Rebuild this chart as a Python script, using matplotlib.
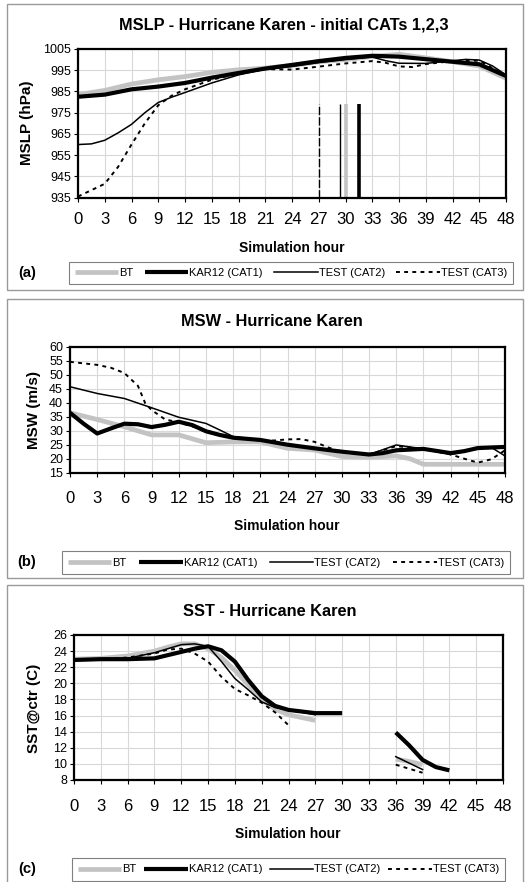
import numpy as np
import matplotlib
matplotlib.use("Agg")
import matplotlib.pyplot as plt
from matplotlib.patches import Rectangle
from matplotlib.lines import Line2D

plt.rcParams['font.family'] = ['Liberation Sans', 'DejaVu Sans']

# ---------------- DATA ----------------
series_names = ["BT", "KAR12 (CAT1)", "TEST (CAT2)", "TEST (CAT3)"]
hour_ticks = list(range(0, 49, 3))

# Panel (a) MSLP (hPa)
mslp_bt_h = [0, 3, 6, 9, 12, 15, 18, 21, 24, 27, 30, 33, 36, 39, 42, 45, 48]
mslp_bt = [983.5, 985.5, 988.5, 990.5, 992, 994, 995.2, 996, 997.2, 999, 1000, 1001.5, 1002.5, 1000.8, 999, 997, 991.2]
mslp_kar_h = [0, 3, 6, 9, 12, 15, 18, 21, 24, 27, 30, 33, 36, 39, 42, 45, 48]
mslp_kar = [982.5, 983.5, 986, 987.3, 989, 991.5, 993.7, 995.8, 997.5, 999.3, 1000.8, 1001.8, 1001.4, 1000.2, 999, 997.8, 992.3]
mslp_c2_h = [0, 1.5, 3, 4.5, 6, 7.5, 9, 10.5, 12, 15, 18, 21, 24, 27, 30, 33, 34.5, 36, 39, 42, 43.5, 45, 46.5, 48]
mslp_c2 = [960, 960.3, 962, 965.5, 969.5, 975, 979.8, 982.3, 984.5, 989, 992.8, 995.5, 996.8, 998.6, 1000, 1001.2, 999.5, 998.3, 998.2, 999.5, 1000.1, 999.8, 997, 992.8]
mslp_c3_h = [0, 1.5, 3, 4.5, 6, 7.5, 9, 10.5, 12, 15, 18, 21, 24, 27, 30, 33, 34.5, 36, 37.5, 39, 42, 45, 48]
mslp_c3 = [935.5, 938.5, 941.5, 949.5, 960, 970, 978.5, 983, 986, 990.5, 993.5, 995.5, 995.3, 996.7, 998.2, 999.3, 998.5, 996.8, 996.5, 997.9, 999.3, 999.5, 992.3]
# landfall markers (hour) for BT, KAR12, CAT2, CAT3
landfall_hours = [30, 31.5, 29.4, 27]
landfall_top = 979
mslp_ticks = list(range(935, 1006, 10))

# Panel (b) MSW (m/s)
msw_bt_h = [0, 3, 6, 9, 12, 15, 18, 21, 24, 27, 30, 33, 36, 37.5, 39, 42, 45, 48]
msw_bt = [36.4, 34, 31.4, 28.5, 28.5, 25.7, 26, 26, 23.7, 23.1, 20.8, 20.5, 21, 20, 18, 18, 18, 18]
msw_kar_h = [0, 1.5, 3, 4.5, 6, 7.5, 9, 10.5, 12, 13.5, 15, 16.5, 18, 21, 24, 27, 30, 33, 34.5, 36, 39, 42, 43.5, 45, 48]
msw_kar = [36.4, 32.5, 29, 30.8, 32.5, 32.3, 31.3, 32.1, 33.2, 32, 29.8, 28.5, 27.5, 26.7, 25, 23.7, 22.5, 21.5, 22, 23, 23.5, 22, 22.7, 23.8, 24.2]
msw_c2_h = [0, 3, 6, 9, 12, 15, 16.5, 18, 21, 24, 27, 30, 33, 36, 39, 42, 45, 46.5, 48]
msw_c2 = [45.7, 43.3, 41.5, 38.2, 34.8, 32.6, 30.3, 27.9, 26.7, 25, 23.5, 22.5, 21.5, 24.9, 23.5, 21.5, 23.5, 24, 21]
msw_c3_h = [0, 3, 4.5, 6, 7.5, 8.3, 9, 10.5, 12, 15, 18, 21, 22.5, 24, 25.5, 27, 28.5, 30, 33, 36, 39, 42, 43.5, 45, 46.5, 48]
msw_c3 = [54.6, 53.5, 52.5, 50.6, 46, 39.8, 37.4, 34, 33, 30, 27.5, 26.5, 26.5, 26.9, 27, 26, 24, 22.5, 21.5, 24.5, 23.5, 21.5, 20, 18.6, 19.8, 23]
msw_ticks = list(range(15, 61, 5))

# Panel (c) SST at centre (C); NaN = missing
sst_bt_h = [0, 3, 6, 9, 10.5, 12, 13.5, 15, 16.5, 18, 19.5, 21, 22.5, 24, 27, 30, 36, 37.5, 39]
sst_bt = [23, 23.1, 23.4, 24, 24.5, 24.9, 24.9, 24.3, 23.2, 21.6, 19.8, 18, 16.8, 16.1, 15.4, np.nan, 10.6, 10.3, 9.9]
sst_kar_h = [0, 3, 6, 9, 12, 13.5, 15, 16.5, 18, 19.5, 21, 22.5, 24, 27, 30, 33, 36, 37.5, 39, 40.5, 42]
sst_kar = [22.9, 23, 23, 23.1, 23.9, 24.3, 24.6, 24.1, 22.7, 20.4, 18.4, 17.2, 16.7, 16.3, 16.3, np.nan, 13.9, 12.3, 10.5, 9.6, 9.2]
sst_c2_h = [0, 3, 6, 9, 12, 13.5, 15, 16.5, 18, 19.5, 21, 22.5, 24, 27, 30, 36, 39]
sst_c2 = [23, 23, 23.1, 23.8, 24.8, 24.9, 24.6, 22.7, 20.6, 19.2, 17.7, 17, 16.7, 16.1, np.nan, 10.9, 9.3]
sst_c3_h = [0, 3, 6, 9, 10.5, 12, 13.5, 15, 16.5, 18, 19.5, 21, 22.5, 24, 30, 36, 39]
sst_c3 = [23, 23, 23.2, 23.7, 24.2, 24.3, 23.7, 22.7, 20.8, 19.3, 18.5, 17.6, 16.4, 14.8, np.nan, 9.9, 8.9]
sst_ticks = list(range(8, 27, 2))

titles = ["MSLP - Hurricane Karen - initial CATs 1,2,3", "MSW - Hurricane Karen", "SST - Hurricane Karen"]
ylabels = ["MSLP (hPa)", "MSW (m/s)", "SST@ctr (C)"]
panel_tags = ["(a)", "(b)", "(c)"]
xlabel_text = "Simulation hour"

# ---------------- STYLE / LAYOUT ----------------
W, H = 530, 882
fig = plt.figure(figsize=(W / 100, H / 100), dpi=100)
fig.patch.set_facecolor("white")

styles = [
    dict(color="#c3c3c3", lw=3.4, ls="-", solid_capstyle="butt"),
    dict(color="black", lw=3.0, ls="-", solid_capstyle="butt"),
    dict(color="black", lw=1.1, ls="-"),
    dict(color="black", lw=1.4, ls=(0, (2, 2.2))),
]

def fx(x):
    return x / W

def fy(y):
    return 1 - y / H

def add_box(x0, y0, x1, y1):
    fig.add_artist(Rectangle((fx(x0), fy(y1)), fx(x1) - fx(x0), fy(y0) - fy(y1),
                             transform=fig.transFigure, fill=False,
                             edgecolor="#9a9a9a", lw=1.0))

panels = [
    dict(box=(7, 3.5, 523, 290), ax=(78, 49, 506, 197.6),
         data=[(mslp_bt_h, mslp_bt), (mslp_kar_h, mslp_kar), (mslp_c2_h, mslp_c2), (mslp_c3_h, mslp_c3)],
         yt=mslp_ticks, title=(284, 25), xl=(292, 248), yl=(27, 123), xpad=7.6,
         leg=(69, 262, 513, 284), tag=(27, 273)),
    dict(box=(7, 299, 523, 578), ax=(70, 346.7, 505, 472.7),
         data=[(msw_bt_h, msw_bt), (msw_kar_h, msw_kar), (msw_c2_h, msw_c2), (msw_c3_h, msw_c3)],
         yt=msw_ticks, title=(272, 322), xl=(287, 526.5), yl=(34, 410), xpad=10.5,
         leg=(62, 551, 510, 574), tag=(27, 562)),
    dict(box=(7, 585, 523, 900), ax=(74, 635, 503, 780),
         data=[(sst_bt_h, sst_bt), (sst_kar_h, sst_kar), (sst_c2_h, sst_c2), (sst_c3_h, sst_c3)],
         yt=sst_ticks, title=(270, 612), xl=(288, 834), yl=(34, 708), xpad=10.5,
         leg=(72, 860, 505, 879), tag=(27, 869)),
]

for i, p in enumerate(panels):
    add_box(*p["box"])
    x0, y0, x1, y1 = p["ax"]
    ax = fig.add_axes([fx(x0), fy(y1), fx(x1) - fx(x0), fy(y0) - fy(y1)])
    for (hh, vv), st in zip(p["data"], styles):
        ax.plot(hh, vv, **st)
    if i == 0:
        vstyles = [
            dict(color="#c3c3c3", lw=2.6),
            dict(color="black", lw=2.6),
            dict(color="black", lw=1.0),
            dict(color="black", lw=1.0, linestyles=[(0, (6, 1.5))]),
        ]
        for h, st in zip(landfall_hours, vstyles):
            ax.vlines(h, mslp_ticks[0], landfall_top, **st)
    ax.set_xlim(0, 48)
    ax.set_ylim(p["yt"][0], p["yt"][-1])
    ax.set_xticks(hour_ticks)
    ax.set_yticks(p["yt"])
    ax.grid(True, color="#d8d8d8", lw=0.8)
    ax.set_axisbelow(True)
    for s in ax.spines.values():
        s.set_linewidth(1.6)
        s.set_color("black")
    ax.tick_params(axis="x", labelsize=12, length=3, width=0.8, pad=p["xpad"], direction="out")
    ax.tick_params(axis="y", labelsize=9, length=3, width=0.8, pad=2, direction="out")

    fig.text(fx(p["title"][0]), fy(p["title"][1]), titles[i], ha="center", va="center",
             fontsize=11.8, fontweight="bold")
    fig.text(fx(p["xl"][0]), fy(p["xl"][1]), xlabel_text, ha="center", va="center",
             fontsize=10, fontweight="bold")
    fig.text(fx(p["yl"][0]), fy(p["yl"][1]), ylabels[i], ha="center", va="center",
             rotation=90, fontsize=11, fontweight="bold")
    fig.text(fx(p["tag"][0]), fy(p["tag"][1]), panel_tags[i], ha="center", va="center",
             fontsize=10.5, fontweight="bold")

    lx0, ly0, lx1, ly1 = p["leg"]
    handles = [Line2D([], [], **st) for st in styles]
    leg = fig.legend(handles, series_names, loc="center", ncol=4, mode="expand",
                     bbox_to_anchor=(fx(lx0), fy(ly1), fx(lx1) - fx(lx0), fy(ly0) - fy(ly1)),
                     bbox_transform=fig.transFigure, fontsize=8, handlelength=3.9,
                     handletextpad=0.1, columnspacing=0.9, borderpad=0.55,
                     borderaxespad=0, fancybox=False, framealpha=1, frameon=True)
    leg.get_frame().set_edgecolor("#808080")
    leg.get_frame().set_linewidth(0.8)

fig.savefig("out.png", dpi=100, facecolor="white")
